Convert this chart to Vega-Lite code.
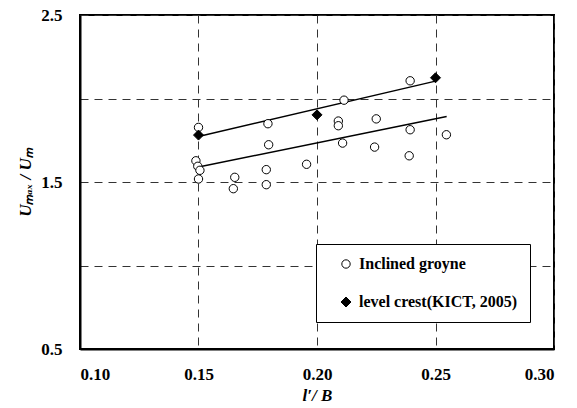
{
  "$schema": "https://vega.github.io/schema/vega-lite/v6.json",
  "autosize": "none",
  "width": 474,
  "height": 334,
  "padding": {"left": 80, "top": 15, "right": 23, "bottom": 59},
  "background": "white",
  "config": {
    "view": {"stroke": "black", "strokeWidth": 2},
    "font": "Liberation Serif",
    "axis": {
      "domainColor": "black", "domainWidth": 2,
      "ticks": false,
      "labelFont": "Liberation Serif", "labelFontSize": 17, "labelFontWeight": "bold", "labelColor": "black",
      "titleFont": "Liberation Serif", "titleFontSize": 17, "titleFontWeight": "bold", "titleFontStyle": "italic", "titleColor": "black",
      "gridColor": "#333333", "gridDash": [8, 6], "gridWidth": 1
    },
    "legend": {
      "labelFont": "Liberation Serif", "labelFontSize": 16, "labelFontWeight": "bold", "labelColor": "black",
      "strokeColor": "black", "padding": 12, "rowPadding": 22, "symbolStrokeWidth": 1, "labelOffset": 5, "symbolOffset": 10,
      "labelExpr": "datum.label + '\u2007\u2007\u2007'"
    }
  },
  "layer": [
    {
      "data": {"values": [
        {"grp": "upper", "x": 0.15, "y": 1.773},
        {"grp": "upper", "x": 0.25, "y": 2.104},
        {"grp": "lower", "x": 0.15, "y": 1.590},
        {"grp": "lower", "x": 0.2547, "y": 1.892}
      ]},
      "mark": {"type": "line", "color": "black", "strokeWidth": 1.5},
      "encoding": {
        "x": {"field": "x", "type": "quantitative", "scale": {"domain": [0.1, 0.3], "nice": false},
          "axis": {"values": [0.1, 0.15, 0.2, 0.25, 0.3], "format": ".2f", "title": "l′/ B", "titlePadding": 5, "labelPadding": 17, "labelFont": "Liberation Serif"}},
        "y": {"field": "y", "type": "quantitative", "scale": {"domain": [0.5, 2.5], "nice": false},
          "axis": {"values": [0.5, 1, 1.5, 2, 2.5], "labelExpr": "datum.value == 1 || datum.value == 2 ? '' : format(datum.value, '.1f')", "title": "Uₘₐₓ / Uₘ", "titlePadding": 6, "labelPadding": 18, "labelFont": "Liberation Serif"}},
        "detail": {"field": "grp"}
      }
    },
    {
      "data": {"values": [
        {"s": "Inclined groyne", "x": 0.15, "y": 1.827},
        {"s": "Inclined groyne", "x": 0.1489, "y": 1.627},
        {"s": "Inclined groyne", "x": 0.1497, "y": 1.594},
        {"s": "Inclined groyne", "x": 0.1506, "y": 1.570},
        {"s": "Inclined groyne", "x": 0.15, "y": 1.518},
        {"s": "Inclined groyne", "x": 0.1653, "y": 1.528},
        {"s": "Inclined groyne", "x": 0.1647, "y": 1.460},
        {"s": "Inclined groyne", "x": 0.1793, "y": 1.849},
        {"s": "Inclined groyne", "x": 0.1796, "y": 1.723},
        {"s": "Inclined groyne", "x": 0.1786, "y": 1.574},
        {"s": "Inclined groyne", "x": 0.1786, "y": 1.484},
        {"s": "Inclined groyne", "x": 0.1956, "y": 1.606},
        {"s": "Inclined groyne", "x": 0.2114, "y": 1.990},
        {"s": "Inclined groyne", "x": 0.2090, "y": 1.865},
        {"s": "Inclined groyne", "x": 0.2090, "y": 1.837},
        {"s": "Inclined groyne", "x": 0.2108, "y": 1.733},
        {"s": "Inclined groyne", "x": 0.2250, "y": 1.878},
        {"s": "Inclined groyne", "x": 0.2243, "y": 1.709},
        {"s": "Inclined groyne", "x": 0.2393, "y": 2.106},
        {"s": "Inclined groyne", "x": 0.2393, "y": 1.813},
        {"s": "Inclined groyne", "x": 0.2389, "y": 1.657},
        {"s": "Inclined groyne", "x": 0.2546, "y": 1.783},
        {"s": "level crest(KICT, 2005)", "x": 0.15, "y": 1.781},
        {"s": "level crest(KICT, 2005)", "x": 0.20, "y": 1.902},
        {"s": "level crest(KICT, 2005)", "x": 0.25, "y": 2.124}
      ]},
      "mark": {"type": "point", "filled": true, "stroke": "black", "strokeWidth": 1, "opacity": 1},
      "encoding": {
        "x": {"field": "x", "type": "quantitative"},
        "y": {"field": "y", "type": "quantitative"},
        "shape": {"field": "s", "type": "nominal",
          "scale": {"domain": ["Inclined groyne", "level crest(KICT, 2005)"], "range": ["circle", "diamond"]},
          "legend": {"title": null, "orient": "none", "legendX": 236, "legendY": 229, "fillColor": "white"}},
        "fill": {"field": "s", "type": "nominal",
          "scale": {"domain": ["Inclined groyne", "level crest(KICT, 2005)"], "range": ["white", "black"]},
          "legend": {"title": null, "orient": "none", "legendX": 236, "legendY": 229, "fillColor": "white"}},
        "size": {"field": "s", "type": "nominal",
          "scale": {"domain": ["Inclined groyne", "level crest(KICT, 2005)"], "range": [70, 100]},
          "legend": {"title": null, "orient": "none", "legendX": 236, "legendY": 229, "fillColor": "white"}}
      }
    }
  ]
}
